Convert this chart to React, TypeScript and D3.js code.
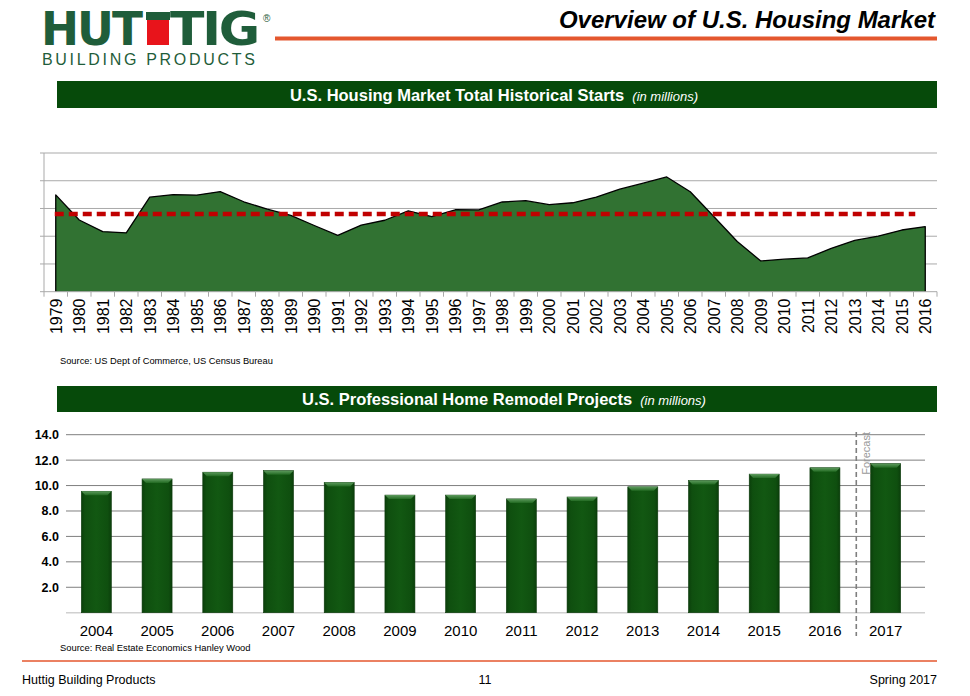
import React from "react";
import * as d3 from "d3";

const startYears: string[] = d3.range(1979, 2017).map(String);
const startValues: number[] = [
  1.745, 1.292, 1.084, 1.062, 1.703, 1.75, 1.742, 1.805, 1.621, 1.488,
  1.376, 1.193, 1.014, 1.2, 1.288, 1.457, 1.354, 1.477, 1.474, 1.617,
  1.641, 1.569, 1.603, 1.705, 1.848, 1.956, 2.068, 1.801, 1.355, 0.906,
  0.554, 0.587, 0.609, 0.781, 0.925, 1.003, 1.112, 1.174,
];
const startAverage = 1.4;
const startGridTicks: number[] = [0.5, 1.0, 1.5, 2.0, 2.5];

const remodelYears: string[] = ["2004", "2005", "2006", "2007", "2008", "2009", "2010", "2011", "2012", "2013", "2014", "2015", "2016", "2017"];
const remodelValues: number[] = [9.55, 10.52, 11.05, 11.17, 10.24, 9.25, 9.25, 8.95, 9.1, 9.9, 10.4, 10.9, 11.4, 11.72];
const remodelTicks: number[] = [2, 4, 6, 8, 10, 12, 14];

const FONT = "'Liberation Sans', Arial, Helvetica, sans-serif";
const LOGO_GREEN = "#1f5d3a";
const HEADER_GREEN = "#064a0a";
const ORANGE = "#e4572e";

export default function App() {
  // ---- area chart geometry ----
  const aLeft = 44, aRight = 937, aTop = 153, aBottom = 291.7;
  const xA = d3.scaleBand<string>().domain(startYears).range([aLeft, aRight]);
  const xAc = (y: string) => (xA(y) as number) + xA.bandwidth() / 2;
  const yA = d3.scaleLinear().domain([0, 2.5]).range([aBottom, aTop]);
  const pts: [number, number][] = startYears.map((y, i) => [xAc(y), yA(startValues[i])]);
  const areaGen = d3.area<[number, number]>().x(d => d[0]).y0(aBottom).y1(d => d[1]);
  const lineGen = d3.line<[number, number]>().x(d => d[0]).y(d => d[1]);
  const areaPath = areaGen(pts) as string;
  const outline = lineGen([[pts[0][0], aBottom], ...pts, [pts[pts.length - 1][0], aBottom]]) as string;

  // ---- bar chart geometry ----
  const bLeft = 66, bRight = 916, gridRight = 925, bBottom = 612.7, bTop = 434.7;
  const xB = d3.scaleBand<string>().domain(remodelYears).range([bLeft, bRight]);
  const yB = d3.scaleLinear().domain([0, 14]).range([bBottom, bTop]);
  const barW = 30;
  const forecastX = (xB("2016") as number) + xB.bandwidth() + 1;

  return (
    <svg width={970} height={696} style={{ position: "absolute", left: 0, top: 0, background: "#fff" }} fontFamily={FONT}>
      <defs>
        <linearGradient id="barGrad" x1="0" x2="1" y1="0" y2="0">
          <stop offset="0" stopColor="#0b3f0b" />
          <stop offset="0.12" stopColor="#0f4f0f" />
          <stop offset="0.5" stopColor="#125812" />
          <stop offset="0.88" stopColor="#0f4f0f" />
          <stop offset="1" stopColor="#0b3f0b" />
        </linearGradient>
        <linearGradient id="bevelGrad" x1="0" x2="0" y1="0" y2="1">
          <stop offset="0" stopColor="#5d9a5d" />
          <stop offset="1" stopColor="#226a22" />
        </linearGradient>
      </defs>

      {/* ---------- Logo ---------- */}
      <g fill={LOGO_GREEN}>
        <text x={41} y={45} fontSize={46} fontWeight={900} letterSpacing={-2} style={{ fontFamily: "'DejaVu Sans', Arial, sans-serif" }} textLength={100} lengthAdjust="spacingAndGlyphs">HUT</text>
        <rect x={146} y={12} width={24} height={8} />
        <rect x={147} y={20} width={22} height={25} fill="#e8141b" />
        <text x={170} y={45} fontSize={46} fontWeight={900} letterSpacing={-2} style={{ fontFamily: "'DejaVu Sans', Arial, sans-serif" }} textLength={88} lengthAdjust="spacingAndGlyphs">TIG</text>
        <text x={263} y={22} fontSize={10}>®</text>
        <text x={42} y={65} fontSize={16} letterSpacing={3.2} textLength={216} lengthAdjust="spacing">BUILDING PRODUCTS</text>
      </g>

      {/* ---------- Title ---------- */}
      <text x={935} y={28} textAnchor="end" fontSize={24} fontWeight="bold" fontStyle="italic" fill="#000">Overview of U.S. Housing Market</text>
      <rect x={275} y={36.5} width={662} height={4} fill={ORANGE} />

      {/* ---------- Header bar 1 ---------- */}
      <rect x={57} y={81} width={880} height={27} fill={HEADER_GREEN} />
      <text x={494} y={100.5} textAnchor="middle" fill="#fff">
        <tspan fontSize={16.5} fontWeight="bold">U.S. Housing Market Total Historical Starts</tspan>
        <tspan fontSize={13} fontStyle="italic" dx={8}>(in millions)</tspan>
      </text>

      {/* ---------- Area chart ---------- */}
      <g>
        {startGridTicks.map(t => (
          <line key={t} x1={aLeft} x2={aRight} y1={yA(t)} y2={yA(t)} stroke="#a9a9a9" strokeWidth={1} />
        ))}
        <path d={areaPath} fill="#317232" />
        <path d={outline} fill="none" stroke="#000" strokeWidth={1.3} strokeLinejoin="round" />
        <line x1={pts[0][0] - 1} x2={pts[pts.length - 1][0] - 10} y1={yA(startAverage)} y2={yA(startAverage)} stroke="#c00000" strokeWidth={4.4} strokeDasharray="9 5" />
        {/* y axis */}
        <line x1={aLeft} x2={aLeft} y1={aTop} y2={aBottom + 5} stroke="#a9a9a9" />
        {[0, ...startGridTicks].map(t => (
          <line key={"yt" + t} x1={aLeft - 4} x2={aLeft} y1={yA(t)} y2={yA(t)} stroke="#a9a9a9" />
        ))}
        {/* x axis */}
        <line x1={aLeft} x2={aRight} y1={aBottom} y2={aBottom} stroke="#a9a9a9" />
        {startYears.map(y => (
          <line key={"xt" + y} x1={(xA(y) as number) + xA.bandwidth()} x2={(xA(y) as number) + xA.bandwidth()} y1={aBottom} y2={aBottom + 5} stroke="#a9a9a9" />
        ))}
        {startYears.map(y => (
          <text key={"xl" + y} transform={`translate(${xAc(y) + 6},${298.5}) rotate(-90)`} textAnchor="end" fontSize={16} fill="#000">{y}</text>
        ))}
      </g>
      <text x={60} y={364} fontSize={9.3} fill="#000">Source: US Dept of Commerce, US Census Bureau</text>

      {/* ---------- Header bar 2 ---------- */}
      <rect x={57} y={386} width={880} height={26} fill={HEADER_GREEN} />
      <text x={504} y={405} textAnchor="middle" fill="#fff">
        <tspan fontSize={16.5} fontWeight="bold">U.S. Professional Home Remodel Projects</tspan>
        <tspan fontSize={13} fontStyle="italic" dx={8}>(in millions)</tspan>
      </text>

      {/* ---------- Bar chart ---------- */}
      <g>
        {remodelTicks.map(t => (
          <line key={t} x1={bLeft} x2={gridRight} y1={yB(t)} y2={yB(t)} stroke="#7f7f7f" strokeWidth={1} />
        ))}
        <line x1={bLeft} x2={gridRight} y1={yB(0)} y2={yB(0)} stroke="#d0d0d0" strokeWidth={1.5} />
        {remodelTicks.map(t => (
          <text key={"l" + t} x={59} y={yB(t)} dy="0.35em" textAnchor="end" fontSize={12.5} fontWeight="bold" fill="#000">{t.toFixed(1)}</text>
        ))}
        {remodelYears.map((y, i) => {
          const cx = (xB(y) as number) + xB.bandwidth() / 2;
          const top = yB(remodelValues[i]);
          const x0 = cx - barW / 2;
          return (
            <g key={y}>
              <rect x={x0} y={top} width={barW} height={bBottom - top} fill="url(#barGrad)" stroke="#0a380a" strokeWidth={0.6} />
              <path d={`M${x0},${top} L${x0 + barW},${top} L${x0 + barW - 4},${top + 4} L${x0 + 4},${top + 4} Z`} fill="url(#bevelGrad)" />
            </g>
          );
        })}
        {remodelYears.map(y => (
          <text key={"xl" + y} x={(xB(y) as number) + xB.bandwidth() / 2} y={636} textAnchor="middle" fontSize={15} fill="#000">{y}</text>
        ))}
        <line x1={forecastX} x2={forecastX} y1={432} y2={636} stroke="#7f7f7f" strokeWidth={1.6} strokeDasharray="5 3" />
        <text transform={`translate(${forecastX + 14},${432}) rotate(-90)`} textAnchor="end" fontSize={11} fill="#9a9a9a">Forecast</text>
      </g>
      <text x={60} y={651} fontSize={9.4} fill="#000">Source: Real Estate Economics Hanley Wood</text>

      {/* ---------- Footer ---------- */}
      <line x1={22} x2={937} y1={661} y2={661} stroke={ORANGE} strokeWidth={1.5} />
      <text x={22} y={684} fontSize={12.5} fill="#000">Huttig Building Products</text>
      <text x={485} y={684} textAnchor="middle" fontSize={12.5} fill="#000">11</text>
      <text x={937} y={684} textAnchor="end" fontSize={12.5} fill="#000">Spring 2017</text>
    </svg>
  );
}
